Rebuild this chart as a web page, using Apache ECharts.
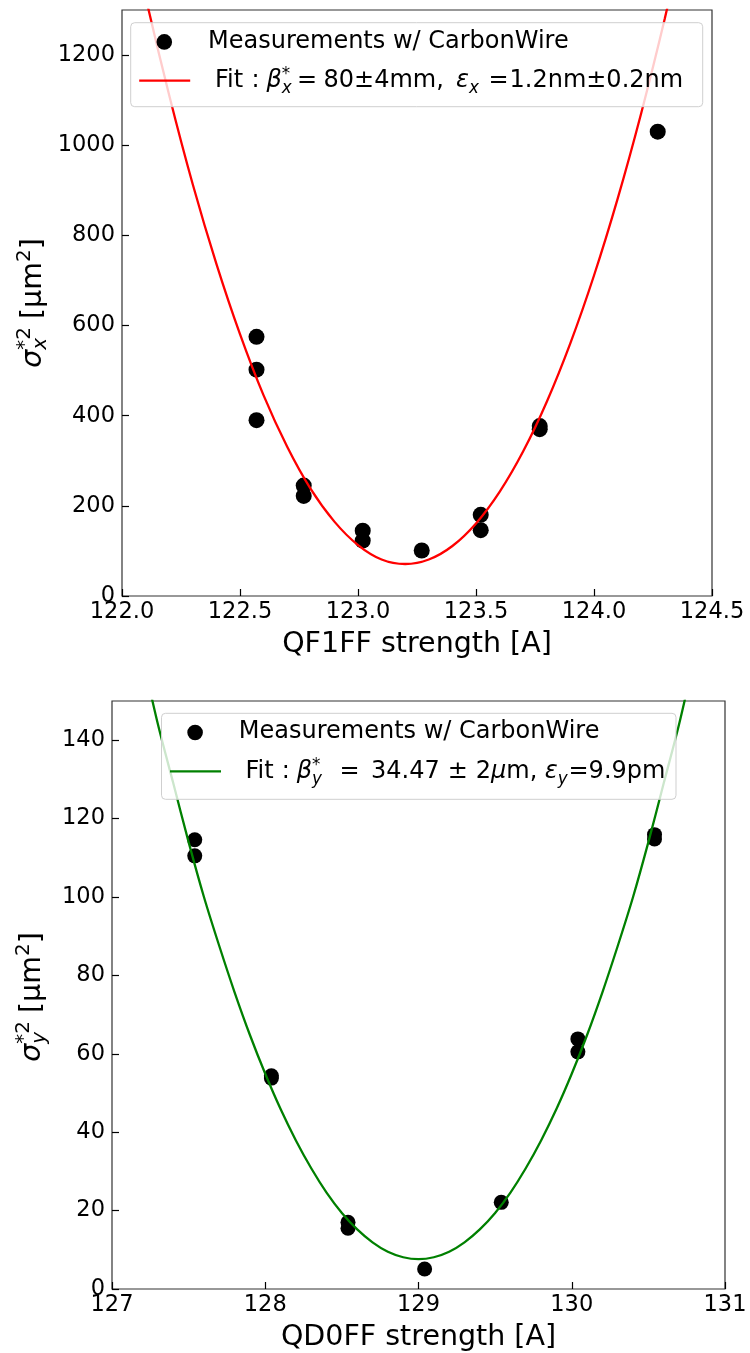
<!DOCTYPE html>
<html>
<head>
<meta charset="utf-8">
<script src="https://cdn.jsdelivr.net/npm/echarts@6/dist/echarts.min.js"></script>
<style>
html,body{margin:0;padding:0;background:#fff;}
#c{width:750px;height:1353px;}
</style>
</head>
<body>
<div id="c"></div>
<script>
// ---------- data ----------
const topMeasX = [122.57,122.57,122.57,122.77,122.77,123.02,123.02,123.27,123.52,123.52,123.77,123.77,124.27];
const topMeasY = [575,502,390,245,222,145,123,101,180,146,377,370,1030];
const topFitX = [122.0,122.1,122.2,122.3,122.4,122.5,122.6,122.7,122.8,122.9,123.0,123.1,123.2,123.3,123.4,123.5,123.6,123.7,123.8,123.9,124.0,124.1,124.2,124.3,124.4];
const topFitY = [1569,1329,1111,913,737,581,445,331,237,165,113,81,71,81,111,161,231,321,431,561,711,881,1071,1281,1511];
const botMeasX = [127.54,127.54,128.04,128.04,128.54,128.54,129.04,129.54,130.04,130.04,130.54,130.54];
const botMeasY = [114.6,110.5,54.4,53.8,17.0,15.5,5.1,22.1,63.8,60.5,115.9,114.8];
const botFitX = [127.1,127.2,127.3,127.4,127.5,127.6,127.7,127.8,127.9,128.0,128.1,128.2,128.3,128.4,128.5,128.6,128.7,128.8,128.9,129.0,
                 129.1,129.2,129.3,129.4,129.5,129.6,129.7,129.8,129.9,130.0,130.1,130.2,130.3,130.4,130.5,130.6,130.7,130.8,130.9];
const botFitY = [178,161,144,129,114,100,87.5,75.7,64.8,54.9,45.9,37.9,30.8,24.6,19.4,15.2,11.9,9.5,8.1,7.6,
                 8.1,9.5,11.9,15.2,19.4,24.6,30.8,37.9,45.9,54.9,64.8,75.7,87.5,100,114,129,144,161,178];
const topXTicks = [122.0,122.5,123.0,123.5,124.0,124.5];
const topYTicks = [0,200,400,600,800,1000,1200];
const botXTicks = [127,128,129,130,131];
const botYTicks = [0,20,40,60,80,100,120,140];
const topXName = 'QF1FF strength [A]';
const botXName = 'QD0FF strength [A]';
const measLabel = 'Measurements w/ CarbonWire';

// ---------- helpers ----------
const FONT = 'DejaVu Sans';
const LEG = 24;
const mctx = document.createElement('canvas').getContext('2d');
function measure(t, size, it) {
  mctx.font = (it ? 'italic ' : '') + size + 'px "' + FONT + '"';
  return mctx.measureText(t).width;
}
function layout(pieces, x0, baseY, base, z) {
  let x = x0, stackW = 0;
  const els = [];
  for (const p of pieces) {
    if (p.gap !== undefined) { x += p.gap; continue; }
    if (p.at !== undefined) x = p.at;
    const size = p.s ? base * p.s : base;
    const w = measure(p.t, size, p.i);
    const dy = (p.dy || 0) * base;
    els.push({
      type: 'text', x: x, y: baseY + dy - 0.346 * size, z: z,
      style: { text: p.t, fontSize: size, fontFamily: FONT, fontStyle: p.i ? 'italic' : 'normal',
               fill: '#000', align: 'left', verticalAlign: 'middle' }
    });
    if (p.stack) { stackW = Math.max(stackW, w); }
    else { x += Math.max(w, stackW); stackW = 0; }
  }
  return { els: els, width: x - x0 };
}
function rotatedLabel(pieces, baseX, centerY, base) {
  const r = layout(pieces, 0, 0, base, 50);
  r.els.forEach(e => { e.x -= r.width / 2; });
  return { type: 'group', x: baseX, y: centerY, rotation: Math.PI / 2, z: 50, children: r.els };
}
function legend(box, color, fitPieces) {
  const els = [];
  els.push({ type: 'rect', z: 100, shape: { x: box.x, y: box.y, width: box.w, height: box.h, r: 4 },
             style: { fill: 'rgba(255,255,255,0.8)', stroke: '#cfcfcf', lineWidth: 1 } });
  const r1 = box.y + 19.2, r2 = box.y + 58;
  els.push({ type: 'circle', z: 101, shape: { cx: box.x + 33.6, cy: r1, r: 7.8 }, style: { fill: '#000' } });
  els.push({ type: 'line', z: 101, shape: { x1: box.x + 8.5, y1: r2, x2: box.x + 59.5, y2: r2 },
             style: { stroke: color, lineWidth: 2.3 } });
  const t1 = layout([{ t: measLabel }], box.x + 77.3, r1 + 8, LEG, 101);
  const t2 = layout(fitPieces, 0, r2 + 8.4, LEG, 101);
  return els.concat(t1.els, t2.els);
}

const topFitPieces = [
  { t: 'Fit', at: 215 }, { t: ':', at: 251.5 }, { t: 'β', i: 1, at: 266.5 },
  { t: '*', s: 0.7, dy: -0.35, stack: 1 }, { t: 'x', s: 0.7, i: 1, dy: 0.24 },
  { t: '=', at: 297 }, { t: '80±4mm,', at: 323.5 }, { t: 'ε', i: 1, at: 456 },
  { t: 'x', s: 0.7, i: 1, dy: 0.24 }, { t: '=', at: 488.5 }, { t: '1.2nm±0.2nm', at: 509.5 }
];
const botFitPieces = [
  { t: 'Fit', at: 245.5 }, { t: ':', at: 281.8 }, { t: 'β', i: 1, at: 296.8 },
  { t: '*', s: 0.7, dy: -0.35, stack: 1 }, { t: 'y', s: 0.7, i: 1, dy: 0.24 },
  { t: '=', at: 339.5 }, { t: '34.47', at: 371 }, { gap: 8 }, { t: '±' }, { gap: 8 }, { t: '2' },
  { t: 'μ', i: 1 }, { t: 'm,' }, { gap: 7.5 }, { t: 'ε', i: 1 },
  { t: 'y', s: 0.7, i: 1, dy: 0.24 }, { t: '=9.9pm', at: 568.5 }
];
const yTopPieces = [
  { t: 'σ', i: 1 }, { t: '*2', s: 0.7, dy: -0.39, stack: 1 }, { t: 'x', s: 0.7, i: 1, dy: 0.18 },
  { gap: 8 }, { t: '[μm' }, { t: '2', s: 0.7, dy: -0.39 }, { t: ']' }
];
const yBotPieces = [
  { t: 'σ', i: 1 }, { t: '*2', s: 0.7, dy: -0.39, stack: 1 }, { t: 'y', s: 0.7, i: 1, dy: 0.18 },
  { gap: 8 }, { t: '[μm' }, { t: '2', s: 0.7, dy: -0.39 }, { t: ']' }
];

// ---------- axes ----------
const tickStyle = { inside: true, length: 7, lineStyle: { color: '#000', width: 1.2 } };
const labStyle = { color: '#000', fontSize: 22.5, fontFamily: FONT };
function xAx(grid, min, max, itv, ticks, dec, name) {
  return {
    gridIndex: grid, type: 'value', min: min, max: max, interval: itv,
    axisLine: { show: false },
    axisTick: Object.assign({ customValues: ticks }, tickStyle),
    axisLabel: Object.assign({ customValues: ticks, margin: 5, showMinLabel: true, showMaxLabel: true,
      formatter: v => v.toFixed(dec) }, labStyle),
    splitLine: { show: false },
    name: name, nameLocation: 'middle', nameGap: 34,
    nameTextStyle: { fontSize: 28.5, color: '#000', fontFamily: FONT }
  };
}
function yAx(grid, min, max, itv, ticks) {
  return {
    gridIndex: grid, type: 'value', min: min, max: max, interval: itv,
    axisLine: { show: false },
    axisTick: Object.assign({ customValues: ticks }, tickStyle),
    axisLabel: Object.assign({ customValues: ticks, margin: 7, formatter: v => String(v) }, labStyle),
    splitLine: { show: false }
  };
}
const zip = (a, b) => a.map((v, i) => [v, b[i]]);

const chart = echarts.init(document.getElementById('c'), null, { renderer: 'canvas' });
chart.setOption({
  animation: false,
  backgroundColor: '#fff',
  grid: [
    { left: 122, top: 10, width: 590, height: 586, show: true, borderColor: '#333', borderWidth: 1.2, backgroundColor: 'transparent' },
    { left: 112, top: 701, width: 613, height: 589, show: true, borderColor: '#333', borderWidth: 1.2, backgroundColor: 'transparent' }
  ],
  xAxis: [
    xAx(0, 122, 124.5, 0.5, topXTicks, 1, topXName),
    xAx(1, 127, 131, 1, botXTicks, 0, botXName)
  ],
  yAxis: [
    yAx(0, 0, 1300, 200, topYTicks),
    yAx(1, 0, 150, 20, botYTicks)
  ],
  series: [
    { type: 'scatter', xAxisIndex: 0, yAxisIndex: 0, data: zip(topMeasX, topMeasY), symbol: 'circle', symbolSize: 16,
      itemStyle: { color: '#000', opacity: 1 }, z: 2 },
    { type: 'line', xAxisIndex: 0, yAxisIndex: 0, data: zip(topFitX, topFitY), smooth: 0.3, showSymbol: false, symbol: 'none',
      lineStyle: { color: '#ff0000', width: 2.3 }, clip: true, z: 3 },
    { type: 'scatter', xAxisIndex: 1, yAxisIndex: 1, data: zip(botMeasX, botMeasY), symbol: 'circle', symbolSize: 15,
      itemStyle: { color: '#000', opacity: 1 }, z: 2 },
    { type: 'line', xAxisIndex: 1, yAxisIndex: 1, data: zip(botFitX, botFitY), smooth: 0.3, showSymbol: false, symbol: 'none',
      lineStyle: { color: '#008000', width: 2.3 }, clip: true, z: 3 }
  ],
  graphic: [].concat(
    legend({ x: 130.7, y: 22.7, w: 572, h: 84 }, '#ff0000', topFitPieces),
    legend({ x: 161.5, y: 713.3, w: 514.5, h: 86 }, '#008000', botFitPieces),
    [rotatedLabel(yTopPieces, 43, 303, 28.5), rotatedLabel(yBotPieces, 42, 997, 28.5)]
  )
});
</script>
</body>
</html>
